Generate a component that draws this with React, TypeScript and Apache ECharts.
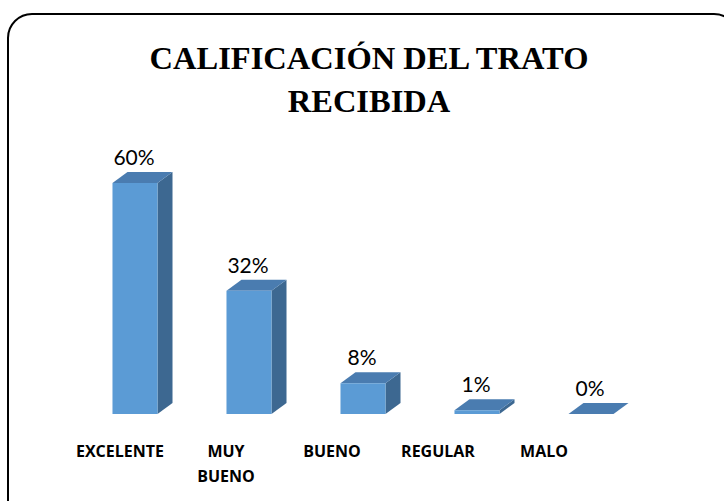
import React, { useEffect, useRef } from "react";
import * as echarts from "echarts";

const categories = ["EXCELENTE", "MUY BUENO", "BUENO", "REGULAR", "MALO"];
const axisLabels = ["EXCELENTE", "MUY\nBUENO", "BUENO", "REGULAR", "MALO"];
const values = [60, 32, 8, 1, 0];
const valueLabels = ["60%", "32%", "8%", "1%", "0%"];
const titleText = "CALIFICACIÓN DEL TRATO\nRECIBIDA";

const DX = 15;
const DY = -11;

export default function App() {
  const ref = useRef<HTMLDivElement>(null);
  useEffect(() => {
    if (!ref.current) return;
    const chart = echarts.init(ref.current, null, { renderer: "svg" });
    const renderItem = (params: any, api: any) => {
      const idx = api.value(0);
      const val = api.value(1);
      const top = api.coord([idx, val]);
      const base = api.coord([idx, 0]);
      const band = api.size([1, 0])[0];
      const w = band * 0.395;
      const x0 = top[0] - w / 2;
      const x1 = top[0] + w / 2;
      const yT = top[1];
      const yB = base[1];
      return {
        type: "group",
        children: [
          {
            type: "polygon",
            shape: { points: [[x1, yB], [x1 + DX, yB + DY], [x1 + DX, yT + DY], [x1, yT]] },
            style: { fill: "#3d6891" },
          },
          {
            type: "polygon",
            shape: { points: [[x0, yT], [x1, yT], [x1 + DX, yT + DY], [x0 + DX, yT + DY]] },
            style: { fill: "#4a7cb0" },
          },
          {
            type: "rect",
            shape: { x: x0, y: yT, width: w, height: Math.max(yB - yT, 0) },
            style: { fill: "#5b9bd5" },
          },
          {
            type: "text",
            x: top[0] - 1,
            y: yT + DY - 5,
            style: {
              text: valueLabels[idx],
              fill: "#000",
              font: "21px Lato",
              align: "center",
              verticalAlign: "bottom",
            },
          },
        ],
      };
    };
    chart.setOption({
      animation: false,
      backgroundColor: "#fff",
      graphic: [
        {
          type: "rect",
          shape: { x: 8, y: 14, width: 730, height: 510, r: 24 },
          style: { fill: "none", stroke: "#000", lineWidth: 2 },
          z: 10,
        },
      ],
      title: {
        text: titleText,
        left: 364,
        top: 31,
        textAlign: "center",
        textStyle: {
          fontFamily: "Liberation Serif",
          fontWeight: "bold",
          fontSize: 32.5,
          lineHeight: 43,
          color: "#000",
        },
      },
      grid: [
        { left: 78, right: 76, top: 144.5, bottom: 87 },
        { left: 67, right: 127, top: 144.5, bottom: 87 },
      ],
      xAxis: [
        {
          type: "category",
          gridIndex: 0,
          data: categories,
          show: false,
        },
        {
          type: "category",
          gridIndex: 1,
          data: axisLabels,
          axisLine: { show: false },
          axisTick: { show: false },
          axisLabel: {
            margin: 24,
            fontFamily: "Open Sans",
            fontWeight: "bold",
            fontSize: 16,
            lineHeight: 25,
            color: "#000",
            interval: 0,
            verticalAlign: "top",
          },
        },
      ],
      yAxis: [
        { type: "value", gridIndex: 0, min: 0, max: 70, show: false },
        { type: "value", gridIndex: 1, min: 0, max: 70, show: false },
      ],
      series: [
        {
          type: "custom",
          xAxisIndex: 0,
          yAxisIndex: 0,
          renderItem,
          clip: false,
          data: values.map((v, i) => [i, v]),
        },
      ],
    });
    return () => chart.dispose();
  }, []);
  return (
    <div
      ref={ref}
      style={{ position: "absolute", left: 0, top: 0, width: 724, height: 501 }}
    />
  );
}
